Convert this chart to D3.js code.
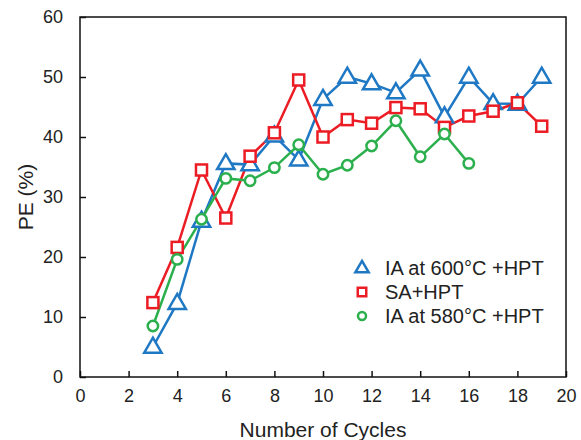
<!DOCTYPE html>
<html>
<head>
<meta charset="utf-8">
<script src="https://cdn.jsdelivr.net/npm/d3@7"></script>
<style>
  body { margin: 0; background: #fff; }
  svg { font-family: "Liberation Sans", Arial, sans-serif; }
</style>
</head>
<body>
<svg></svg>
<script>
const margin = {
    top: 17, right: 15, bottom: 63, left: 80
};
const svg_width = 581;
const svg_height = 440;
const width = svg_width - margin.left - margin.right;
const height = svg_height - margin.top - margin.bottom;

// data
const cycles600 = [3, 4, 5, 6, 7, 8, 9, 10, 11, 12, 13, 14, 15, 16, 17, 18, 19];
const pe600 = [5.0, 12.3, 26.0, 35.6, 35.4, 40.2, 36.2, 46.3, 50.0, 48.9, 47.4, 51.2, 43.4, 50.0, 45.6, 45.5, 50.0];
const cyclesSA = [3, 4, 5, 6, 7, 8, 9, 10, 11, 12, 13, 14, 15, 16, 17, 18, 19];
const peSA = [12.4, 21.6, 34.5, 26.5, 36.8, 40.7, 49.5, 40.0, 42.9, 42.3, 44.9, 44.7, 41.6, 43.5, 44.3, 45.7, 41.8];
const cycles580 = [3, 4, 5, 6, 7, 8, 9, 10, 11, 12, 13, 14, 15, 16];
const pe580 = [8.5, 19.6, 26.3, 33.1, 32.7, 34.9, 38.7, 33.8, 35.3, 38.5, 42.7, 36.7, 40.5, 35.6];
const seriesNames = ["IA at 600°C +HPT", "SA+HPT", "IA at 580°C +HPT"];
const xTicks = [0, 2, 4, 6, 8, 10, 12, 14, 16, 18, 20];
const yTicks = [0, 10, 20, 30, 40, 50, 60];

const series = [
    { name: seriesNames[0], x: cycles600, y: pe600, color: "#1f78c3", shape: "triangle" },
    { name: seriesNames[1], x: cyclesSA, y: peSA, color: "#ec1c24", shape: "square" },
    { name: seriesNames[2], x: cycles580, y: pe580, color: "#2bb04d", shape: "circle" }
];

const svg = d3.select("svg")
    .attr("width", svg_width)
    .attr("height", svg_height)
    .append("g")
    .attr("transform", `translate(${margin.left}, ${margin.top})`);

const xScale = d3.scaleLinear()
    .domain([0, 20])
    .range([0, width]);

const yScale = d3.scaleLinear()
    .domain([0, 60])
    .range([height, 0]);

const xAxis = d3.axisBottom(xScale)
    .tickValues(xTicks)
    .tickSizeInner(-6)
    .tickSizeOuter(0)
    .tickPadding(12);

const yAxis = d3.axisLeft(yScale)
    .tickValues(yTicks)
    .tickSizeInner(-6)
    .tickSizeOuter(0)
    .tickPadding(17);

const gx = svg.append("g")
    .attr("transform", `translate(0, ${height})`)
    .call(xAxis);

const gy = svg.append("g").call(yAxis);

[gx, gy].forEach(g => {
    g.select(".domain").remove();
    g.selectAll("line").attr("stroke", "#111").attr("stroke-width", 1.5);
    g.selectAll("text").attr("fill", "#222").style("font-size", "18px");
});

// frame
svg.append("rect")
    .attr("width", width)
    .attr("height", height)
    .attr("fill", "none")
    .attr("stroke", "#111")
    .attr("stroke-width", 1.5);

const line = d3.line()
    .x(d => xScale(d[0]))
    .y(d => yScale(d[1]));

function drawMarker(g, shape, color, size) {
    if (shape === "triangle") {
        const s = size * 1.15;
        g.append("path")
            .attr("d", `M0,${-s * 0.62}L${s * 0.58},${s * 0.38}L${-s * 0.58},${s * 0.38}Z`)
            .attr("fill", "#fff").attr("stroke", color).attr("stroke-width", 2.5);
    } else if (shape === "square") {
        const s = size * 0.85;
        g.append("rect")
            .attr("x", -s / 2).attr("y", -s / 2).attr("width", s).attr("height", s)
            .attr("fill", "#fff").attr("stroke", color).attr("stroke-width", 2.5);
    } else {
        g.append("circle")
            .attr("r", size * 0.4)
            .attr("fill", "#fff").attr("stroke", color).attr("stroke-width", 2.5);
    }
}

series.forEach(s => {
    const pts = s.x.map((x, i) => [x, s.y[i]]);
    svg.append("path")
        .datum(pts)
        .attr("fill", "none")
        .attr("stroke", s.color)
        .attr("stroke-width", 2.5)
        .attr("d", line);
});

series.forEach(s => {
    const pts = s.x.map((x, i) => [x, s.y[i]]);
    svg.append("g").selectAll("g")
        .data(pts)
        .enter()
        .append("g")
        .attr("transform", d => `translate(${xScale(d[0])}, ${yScale(d[1])})`)
        .each(function () { drawMarker(d3.select(this), s.shape, s.color, 13); });
});

// legend
const legend = svg.append("g")
    .attr("transform", `translate(${362 - margin.left}, ${268 - margin.top})`);

series.forEach((s, i) => {
    const row = legend.append("g").attr("transform", `translate(0, ${i * 24})`);
    drawMarker(row, s.shape, s.color, 10);
    row.append("text")
        .attr("x", 23)
        .attr("y", 7)
        .attr("fill", "#222")
        .style("font-size", "20px")
        .text(s.name);
});

// axis titles
svg.append("text")
    .attr("x", width / 2)
    .attr("y", height + 60)
    .attr("text-anchor", "middle")
    .attr("fill", "#222")
    .style("font-size", "21px")
    .text("Number of Cycles");

svg.append("text")
    .attr("transform", `translate(${-47}, ${height / 2}) rotate(-90)`)
    .attr("text-anchor", "middle")
    .attr("fill", "#222")
    .style("font-size", "21px")
    .text("PE (%)");
</script>
</body>
</html>
